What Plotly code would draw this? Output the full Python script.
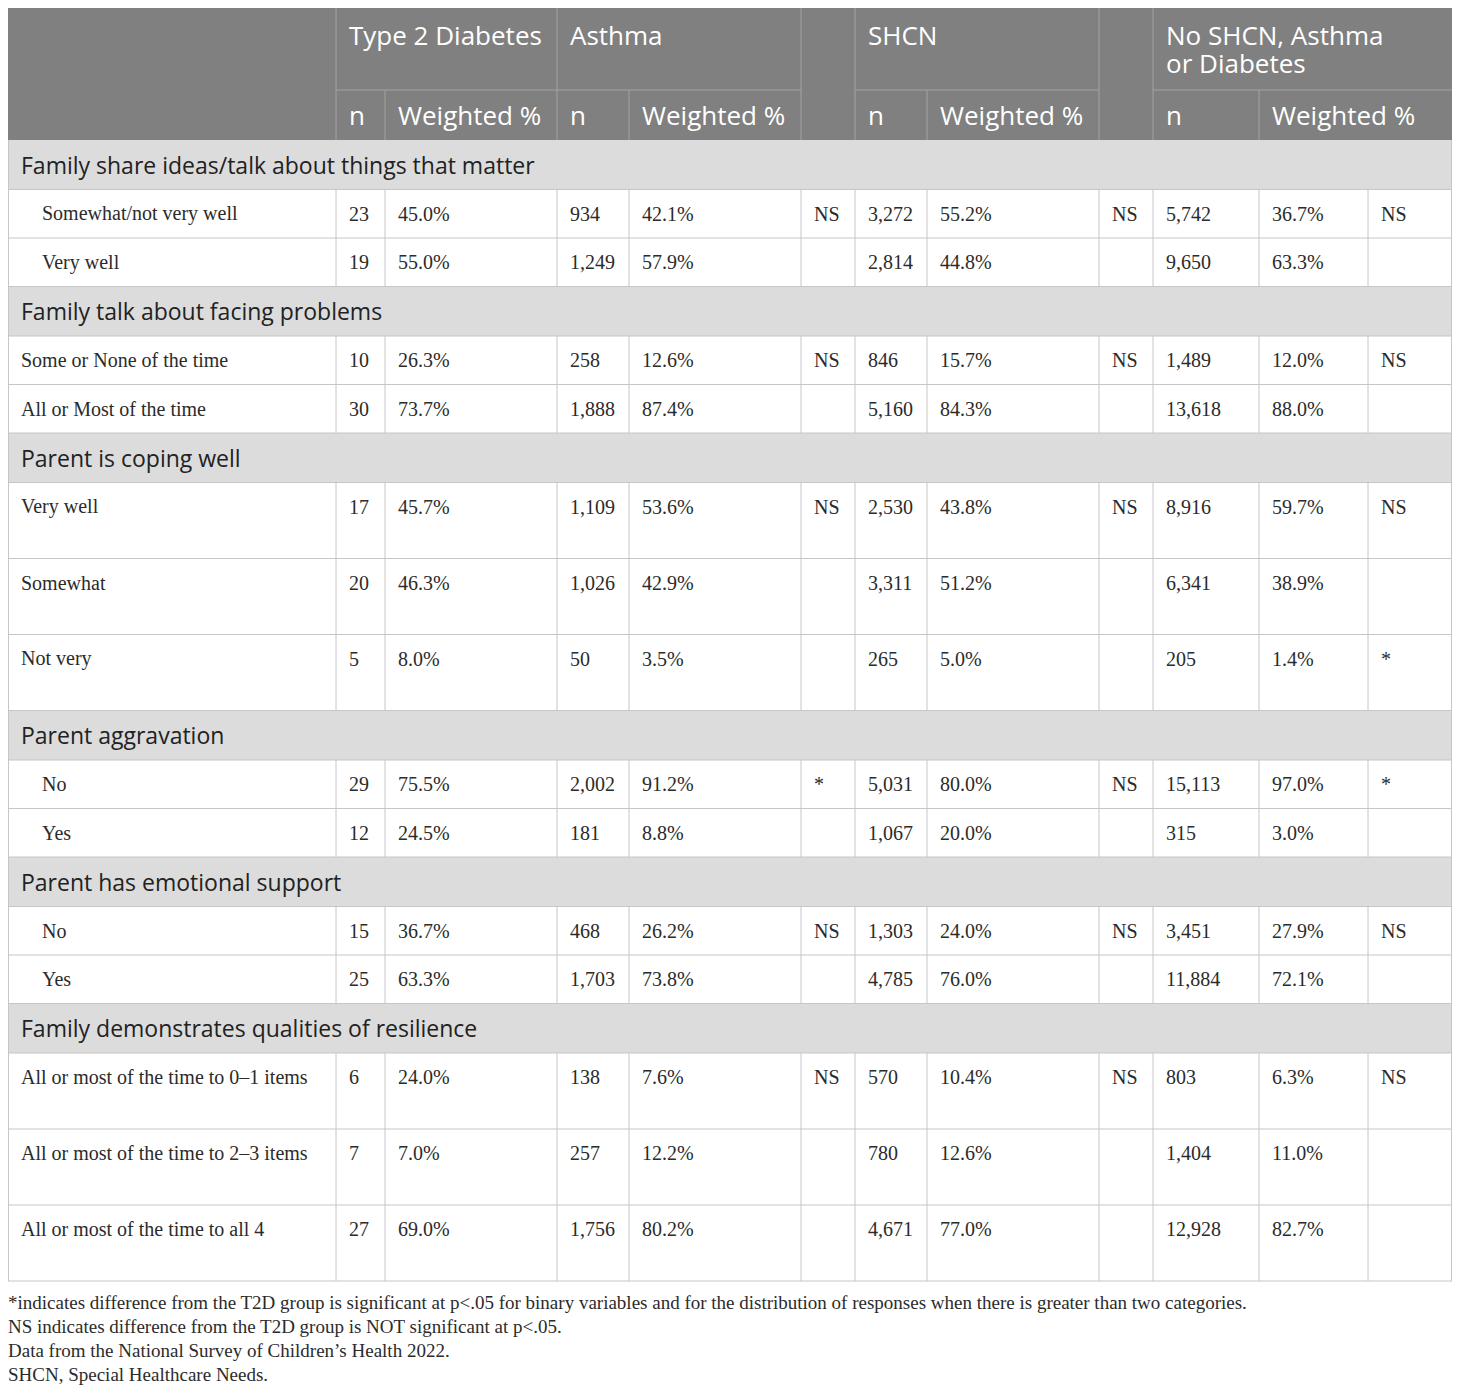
import plotly.graph_objects as go

# ---------------- data ----------------
groups = ["Type 2 Diabetes", "Asthma", "SHCN", "No SHCN, Asthma<br>or Diabetes"]
sub_headers = ["n", "Weighted %"]
sections = [
    "Family share ideas/talk about things that matter",
    "Family talk about facing problems",
    "Parent is coping well",
    "Parent aggravation",
    "Parent has emotional support",
    "Family demonstrates qualities of resilience",
]
section_sizes = [2, 2, 3, 2, 2, 3]
row_labels = [
    "Somewhat/not very well", "Very well",
    "Some or None of the time", "All or Most of the time",
    "Very well", "Somewhat", "Not very",
    "No", "Yes",
    "No", "Yes",
    "All or most of the time to 0–1 items",
    "All or most of the time to 2–3 items",
    "All or most of the time to all 4",
]
t2d_n = [23, 19, 10, 30, 17, 20, 5, 29, 12, 15, 25, 6, 7, 27]
t2d_pct = [45.0, 55.0, 26.3, 73.7, 45.7, 46.3, 8.0, 75.5, 24.5, 36.7, 63.3, 24.0, 7.0, 69.0]
asthma_n = [934, 1249, 258, 1888, 1109, 1026, 50, 2002, 181, 468, 1703, 138, 257, 1756]
asthma_pct = [42.1, 57.9, 12.6, 87.4, 53.6, 42.9, 3.5, 91.2, 8.8, 26.2, 73.8, 7.6, 12.2, 80.2]
asthma_sig = ["NS", "", "NS", "", "NS", "", "", "*", "", "NS", "", "NS", "", ""]
shcn_n = [3272, 2814, 846, 5160, 2530, 3311, 265, 5031, 1067, 1303, 4785, 570, 780, 4671]
shcn_pct = [55.2, 44.8, 15.7, 84.3, 43.8, 51.2, 5.0, 80.0, 20.0, 24.0, 76.0, 10.4, 12.6, 77.0]
shcn_sig = ["NS", "", "NS", "", "NS", "", "", "NS", "", "NS", "", "NS", "", ""]
none_n = [5742, 9650, 1489, 13618, 8916, 6341, 205, 15113, 315, 3451, 11884, 803, 1404, 12928]
none_pct = [36.7, 63.3, 12.0, 88.0, 59.7, 38.9, 1.4, 97.0, 3.0, 27.9, 72.1, 6.3, 11.0, 82.7]
none_sig = ["NS", "", "NS", "", "NS", "", "*", "*", "", "NS", "", "NS", "", ""]
footnotes = [
    "*indicates difference from the T2D group is significant at p&lt;.05 for binary variables and for the distribution of responses when there is greater than two categories.",
    "NS indicates difference from the T2D group is NOT significant at p&lt;.05.",
    "Data from the National Survey of Children’s Health 2022.",
    "SHCN, Special Healthcare Needs.",
]

# ---------------- layout / style ----------------
W, H = 1460, 1393
col_edges = [8, 336, 385, 557, 629, 801, 855, 927, 1099, 1153, 1259, 1368, 1452]
header_top, header_mid, header_bot = 8, 90, 140
section_h = 49.5
section_row_h = [48.5, 48.5, 76, 48.5, 48.5, 76]
section_indent = [True, False, False, True, True, False]
group_spans = [(1, 3), (3, 5), (6, 8), (9, 12)]          # column-edge index ranges
sub_spans = [(1, 2), (2, 3), (3, 4), (4, 5), (6, 7), (7, 8), (9, 10), (10, 12)]
full_height_dividers = [1, 3, 5, 6, 8, 9]
half_height_dividers = [2, 4, 7, 10]

HEADER_BG = "#808080"
HEADER_LINE = "#a3a3a3"
SECTION_BG = "#dcdcdc"
GRID = "#c6c6c6"
SANS = "Open Sans"
SERIF = "Liberation Serif"
TEXT = "#2b2b2b"

fig = go.Figure()
shapes = []
ann = []


def text(x, y, s, size, family, color=TEXT, yanchor="middle", xshift=-3, pad=1):
    ann.append(dict(x=x, y=y, text=s, showarrow=False, xanchor="left", yanchor=yanchor,
                    xshift=xshift, xref="x", yref="y", borderpad=pad, borderwidth=pad,
                    font=dict(size=size, family=family, color=color)))


def line(x0, y0, x1, y1, color, w=1):
    shapes.append(dict(type="line", x0=x0, y0=y0, x1=x1, y1=y1, xref="x", yref="y",
                       line=dict(color=color, width=w), layer="above"))


L, R = col_edges[0], col_edges[-1]

# header
shapes.append(dict(type="rect", x0=L, x1=R, y0=header_top, y1=header_bot, xref="x", yref="y",
                   fillcolor=HEADER_BG, line=dict(width=0), layer="below"))
for i in full_height_dividers:
    line(col_edges[i], header_top, col_edges[i], header_bot, HEADER_LINE)
for i in half_height_dividers:
    line(col_edges[i], header_mid, col_edges[i], header_bot, HEADER_LINE)
for a, b in group_spans:
    line(col_edges[a], header_mid, col_edges[b], header_mid, HEADER_LINE)
for g, (a, b) in zip(groups, group_spans):
    for k, part in enumerate(g.split("<br>")):
        text(col_edges[a] + 14, header_top + 27 + 28 * k, part, 26, SANS, "white")
for k, (a, b) in enumerate(sub_spans):
    text(col_edges[a] + 14, (header_mid + header_bot) / 2, sub_headers[k % 2], 26, SANS, "white")

# body
columns = [
    [f"{v:,}" for v in t2d_n], [f"{v:.1f}%" for v in t2d_pct],
    [f"{v:,}" for v in asthma_n], [f"{v:.1f}%" for v in asthma_pct], asthma_sig,
    [f"{v:,}" for v in shcn_n], [f"{v:.1f}%" for v in shcn_pct], shcn_sig,
    [f"{v:,}" for v in none_n], [f"{v:.1f}%" for v in none_pct], none_sig,
]
y = header_bot
r = 0
for s, (title, size) in enumerate(zip(sections, section_sizes)):
    shapes.append(dict(type="rect", x0=L, x1=R, y0=y, y1=y + section_h, xref="x", yref="y",
                       fillcolor=SECTION_BG, line=dict(width=0), layer="below"))
    text(L + 14, y + section_h / 2, title, 23, SANS, "#222222")
    line(L + 0.5, y, L + 0.5, y + section_h, GRID)
    line(R - 0.5, y, R - 0.5, y + section_h, GRID)
    y += section_h
    line(L, y, R, y, GRID)
    for j in range(size):
        h = section_row_h[s]
        for e in col_edges:
            ex = e + 0.5 if e == L else (e - 0.5 if e == R else e)
            line(ex, y, ex, y + h, GRID)
        indent = 35 if section_indent[s] else 14
        text(L + indent, y + 24, row_labels[r], 20, SERIF)
        for c, col in enumerate(columns):
            if col[r]:
                text(col_edges[c + 1] + 14, y + 24, col[r], 20, SERIF)
        y += h
        line(L, y, R, y, GRID)
        r += 1

# footnotes
for k, f in enumerate(footnotes):
    text(L, y + 21 + 24 * k, f, 19, SERIF, xshift=0, pad=0)

fig.update_layout(
    width=W - 16, height=H - 16,
    margin=dict(l=0, r=0, t=0, b=0),
    paper_bgcolor="white", plot_bgcolor="white",
    xaxis=dict(range=[8, W - 8], visible=False, fixedrange=True),
    yaxis=dict(range=[H - 8, 8], visible=False, fixedrange=True),
    shapes=shapes, annotations=ann, showlegend=False,
)
fig.write_html("out.html")
